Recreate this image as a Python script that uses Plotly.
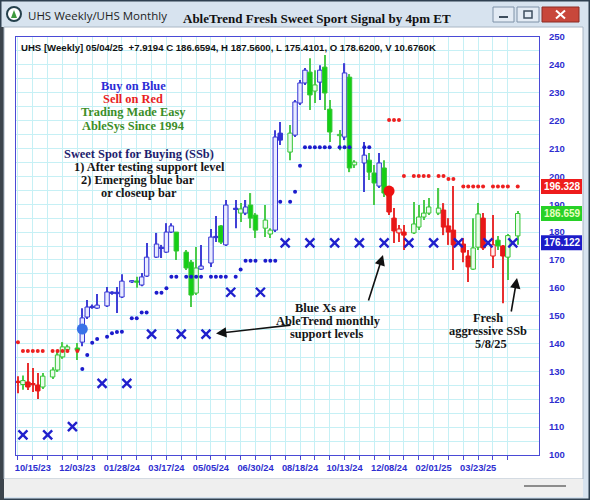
import pandas as pd
import plotly.graph_objects as go

# ---------------- data ----------------
# Combined time axis: weekly bars (Sunday dates) interleaved with monthly bars (1st of month)
week_start, week_end = "2023-09-24", "2025-05-04"
month_start, month_end = "2023-10-01", "2025-05-01"

tick_labels = ["10/15/23", "12/03/23", "01/28/24", "03/17/24", "05/05/24", "06/30/24",
               "08/18/24", "10/13/24", "12/08/24", "02/01/25", "03/23/25"]

# Weekly OHLC
opens = [126.2, 125.3, 126.2, 125.6, 125.1, 124.4, 128.0, 130.5, 135.2, 137.9, 138.4,
         140.5, 149.5, 153.3, 152.7, 153.5, 158.3, 158.4, 156.7, 162.1, 162.2, 161.0,
         164.2, 171.0, 174.5, 172.8, 180.0, 180.0, 172.8, 169.2, 158.1, 166.7, 168.9,
         178.4, 182.2, 175.4, 188.5, 186.8, 186.8, 189.7, 186.1, 181.4, 179.3, 180.7,
         215.5, 208.7, 214.8, 226.3, 233.5, 237.4, 230.6, 233.8, 239.2, 224.1, 214.6,
         214.1, 235.6, 204.1, 204.8, 205.8, 201.2, 196.5, 203.0, 194.0, 185.0, 179.7,
         180.0, 179.7, 181.8, 185.4, 186.8, 186.8, 187.9, 182.2, 180.7, 175.7, 171.4,
         166.7, 174.6, 185.0, 171.4, 177.1, 175.0, 171.0, 178.62]
highs = [128.3, 128.5, 133.0, 131.2, 129.4, 129.4, 131.5, 137.0, 140.5, 139.6, 140.2,
         152.7, 155.6, 154.0, 157.8, 160.3, 158.8, 160.3, 164.9, 162.8, 164.0, 165.3,
         176.1, 179.7, 175.4, 183.2, 183.2, 180.0, 173.6, 170.0, 174.6, 175.4, 181.1,
         185.8, 182.5, 191.5, 191.5, 190.4, 191.5, 194.0, 186.8, 189.7, 181.4, 216.5,
         219.5, 218.4, 227.4, 234.6, 238.9, 242.4, 238.1, 239.9, 243.5, 227.4, 216.6,
         240.6, 236.7, 205.8, 212.3, 208.4, 204.1, 208.4, 205.8, 195.1, 188.6, 182.5,
         182.5, 190.8, 189.7, 191.5, 192.2, 195.8, 190.4, 185.0, 196.5, 177.9, 173.6,
         185.0, 190.4, 186.8, 186.1, 178.6, 175.4, 179.3, 187.56]
lows = [122.2, 123.4, 123.3, 122.6, 120.1, 123.7, 127.3, 129.8, 134.5, 137.3, 134.1,
        139.0, 148.8, 152.5, 152.4, 153.1, 157.5, 151.0, 156.3, 161.7, 160.0, 160.6,
        163.9, 170.7, 170.7, 172.5, 179.7, 170.0, 166.4, 153.1, 157.4, 166.4, 167.5,
        176.4, 175.7, 175.0, 181.4, 183.6, 186.1, 181.4, 177.9, 178.2, 177.9, 180.0,
        211.2, 205.8, 214.1, 225.6, 232.8, 223.8, 226.3, 227.4, 223.8, 212.3, 209.4,
        213.0, 201.5, 203.0, 194.4, 198.7, 189.7, 195.8, 192.6, 186.1, 176.1, 176.4,
        173.6, 179.3, 180.7, 184.3, 186.1, 186.1, 178.9, 175.4, 166.4, 169.2, 162.1,
        166.4, 173.6, 173.6, 167.1, 173.6, 154.5, 162.8, 175.4101]
closes = [126.0, 126.7, 124.4, 125.2, 123.0, 128.3, 130.5, 135.9, 138.8, 138.8, 137.6,
          149.2, 153.1, 152.9, 153.8, 158.5, 158.0, 157.9, 162.4, 162.3, 162.0, 163.9,
          171.0, 175.7, 174.1, 180.0, 182.2, 173.2, 167.1, 157.4, 167.1, 167.8, 178.2,
          178.0, 176.4, 189.7, 188.1, 188.3, 189.0, 185.0, 180.7, 184.3, 180.7, 214.1,
          213.0, 215.5, 226.7, 233.5, 238.1, 229.2, 232.8, 238.1, 229.9, 215.9, 214.9,
          237.1, 203.0, 205.1, 207.6, 201.5, 197.6, 204.8, 194.0, 187.2, 180.4, 181.1,
          178.9, 182.9, 185.4, 186.8, 189.0, 188.6, 181.8, 180.0, 175.4, 172.8, 167.5,
          174.3, 186.5, 174.3, 175.4, 175.0, 171.4, 178.74, 186.6594]
volume_label = "10.6760K"

# AbleTrend bar colour per week: B = blue (up trend), G = green (neutral), R = red (down trend)
trend = list("RGRRRGGGGGG" "BBBBBBBBB" "G" "BBBBBB" "GGGG" "BBB" "G" "BB" "G" "B"
             "GGGG" "BB" "G" "BBB" "GG" "B" "GGG" "B" "GG" "B" "GG" "B" "G"
             "RRRR" "GGGGG" "RRRRR" "GG" "RR" "G" "R" "GG")

# Weekly support stops (blue dots) and resistance stops (red dots)
support_stop = ([None] * 11 +
                [130.9, 135.9, 140.3, 141.6, 142.4, 143.7, 144.1, 144.2, 149.1, 149.1,
                 151.1, 151.1, 158.2, 158.2, 159.8,
                 164.0, 164.0, 164.0, 164.0, 164.0, 164.0, 164.0, 164.0, 164.0, 164.0, 164.0,
                 166.6, 169.7, 169.7, 169.7, 169.7, 169.7, 169.7,
                 190.9, 190.9, 194.5, 203.8,
                 210.4, 210.4, 210.4, 210.4, 210.4, 210.4, 210.4, 210.4, 210.4,
                 None, 210.4, 210.4] +
                [None] * 25)
resistance_stop = ([140.5] +
                   [137.3, 137.3, 137.3, 137.3, 137.3, 137.3, 137.3, 137.3, 137.3, 137.3] +
                   [None] * 52 +
                   [220.2, 220.2, 220.2,
                    200.1, 200.1, 200.1, 200.1, 200.1, 200.1, 200.1,
                    199.0, 199.0,
                    196.328, 196.328, 196.328, 196.328, 196.328, 196.328, 196.328,
                    196.328, 196.328, 196.328])

# Monthly AbleTrend support levels (blue X)
monthly_support = [107.2, 107.2, 110.2, 125.7, 125.7, 143.4, 143.4, 143.4, 158.4, 158.4,
                   176.122, 176.122, 176.122, 176.122, 176.122, 176.122, 176.122, 176.122,
                   176.122, 176.122]

# Signal dots
buy_signal_dates, buy_signal_values = ["2023-12-10"], [145.2]
sell_signal_dates, sell_signal_values = ["2024-12-08"], [194.7]

Y_MIN, Y_MAX = 100, 250

# ---------------- build axis categories ----------------
weeks = pd.date_range(week_start, week_end, freq="W-SUN")
months = pd.date_range(month_start, month_end, freq="MS")
slots = weeks.union(months)
categories = [d.strftime("%Y-%m-%d") for d in slots]
week_keys = [d.strftime("%Y-%m-%d") for d in weeks]
month_keys = [d.strftime("%Y-%m-%d") for d in months]

label_keys = {pd.to_datetime(t, format="%m/%d/%y").strftime("%Y-%m-%d"): t for t in tick_labels}
tick_vals = categories[::3]
tick_text = [label_keys.get(c, "") for c in tick_vals]

# ---------------- styling ----------------
COL = {"B": "#3030d4", "G": "#14d014", "R": "#e81818"}
HOLLOW = {"B": "#e9ebff", "G": "#ecfcec", "R": "#ffefef"}
EDGE = {"B": "#3434d4", "G": "#36c436", "R": "#e81818"}
WICK = {"B": "#4040d6", "G": "#4ccc4c", "R": "#e83030"}
GRID = "#c6f0f5"
AXIS = "#4a4ad6"
DOT_BLUE = "#1c1ccc"
DOT_RED = "#ee2020"

body_base = [min(o, c) for o, c in zip(opens, closes)]
body_len = [max(abs(c - o), 0.45) for o, c in zip(opens, closes)]
body_fill = [COL[t] if c < o else HOLLOW[t] for t, o, c in zip(trend, opens, closes)]
body_edge = [EDGE[t] for t in trend]
wick_len = [h - l for h, l in zip(highs, lows)]
wick_col = [WICK[t] for t in trend]

fig = go.Figure()

# wicks
fig.add_trace(go.Bar(x=week_keys, base=lows, y=wick_len, width=0.24,
                     marker=dict(color=wick_col, line=dict(width=0)),
                     hoverinfo="skip", showlegend=False))
# bodies
fig.add_trace(go.Bar(x=week_keys, base=body_base, y=body_len, width=0.9,
                     marker=dict(color=body_fill, line=dict(color=body_edge, width=1)),
                     hoverinfo="skip", showlegend=False))
# stops
fig.add_trace(go.Scatter(x=week_keys, y=support_stop, mode="markers",
                         marker=dict(size=4, color=DOT_BLUE), showlegend=False, hoverinfo="skip"))
fig.add_trace(go.Scatter(x=week_keys, y=resistance_stop, mode="markers",
                         marker=dict(size=4, color=DOT_RED), showlegend=False, hoverinfo="skip"))
# monthly support X
fig.add_trace(go.Scatter(x=month_keys, y=monthly_support, mode="markers",
                         marker=dict(symbol="x-thin", size=9, line=dict(width=2.4, color="#2020cc")),
                         showlegend=False, hoverinfo="skip"))
# signal dots
fig.add_trace(go.Scatter(x=buy_signal_dates, y=buy_signal_values, mode="markers",
                         marker=dict(size=11, color="#3a72e8"), showlegend=False, hoverinfo="skip"))
fig.add_trace(go.Scatter(x=sell_signal_dates, y=sell_signal_values, mode="markers",
                         marker=dict(size=11, color="#ee1111"), showlegend=False, hoverinfo="skip"))

# ---------------- page layout helpers (pixel -> paper) ----------------
W, H = 590, 500
PL, PR, PT, PB = 16, 539, 37, 455


def fx(p):
    return (p - PL) / (PR - PL)


def fy(p):
    return (PB - p) / (PB - PT)


def vy(v):
    return (v - Y_MIN) / (Y_MAX - Y_MIN)


def rect(x0, y0, x1, y1, fill=None, line=None, lw=1, layer="below"):
    return dict(type="rect", xref="paper", yref="paper",
                x0=fx(x0), x1=fx(x1), y0=fy(y1), y1=fy(y0),
                fillcolor=fill or "rgba(0,0,0,0)",
                line=dict(color=line or "rgba(0,0,0,0)", width=lw if line else 0),
                layer=layer)


def seg(x0, y0, x1, y1, color, lw, layer="above"):
    return dict(type="line", xref="paper", yref="paper",
                x0=fx(x0), x1=fx(x1), y0=fy(y0), y1=fy(y1),
                line=dict(color=color, width=lw), layer=layer)


shapes = [
    rect(0, 0, 590, 500, fill="#d7e3ef", line="#2f4050", lw=3),
    rect(0, 27, 4, 500, fill="#3c444c"),
    rect(4, 27, 583, 479, fill="#ffffff", line="#a9b6c4"),
    rect(4, 479, 583, 497, fill="#efefef"),
    seg(524, 486, 566, 486, "#8c8c8c", 2, layer="below"),
    # window buttons
    rect(493, 7, 514, 22, fill="#e3ebf4", line="#7e92a8", layer="above"),
    seg(499, 17, 508, 17, "#3e4e5e", 2),
    rect(517, 7, 539, 22, fill="#e3ebf4", line="#7e92a8", layer="above"),
    rect(524, 11, 532, 18, line="#3e4e5e", lw=1.5, layer="above"),
    rect(542, 7, 579, 22, fill="#c8473b", line="#8c2c24", layer="above"),
    seg(556, 10.5, 565, 18.5, "#ffffff", 2),
    seg(556, 18.5, 565, 10.5, "#ffffff", 2),
    # title icon
    dict(type="circle", xref="paper", yref="paper", x0=fx(7), x1=fx(21), y0=fy(21), y1=fy(7),
         fillcolor="#ffffff", line=dict(color="#24404c", width=2), layer="above"),
    dict(type="path", xref="paper", yref="paper",
         path=f"M {fx(11)} {fy(18)} L {fx(14)} {fy(10)} L {fx(17)} {fy(18)} Z",
         fillcolor="#3e9a3e", line=dict(width=0), layer="above"),
]

# last-value boxes on the price scale
last_boxes = [
    (resistance_stop[-1], "#ee1c1c", "#ffffff"),
    (closes[-1], "#27d127", "#e9ffc0"),
    (monthly_support[-1], "#1c1cc8", "#ffffff"),
]
half = 7.5 / (PB - PT)
annotations = []
for v, bg, fg in last_boxes:
    shapes.append(dict(type="rect", xref="paper", yref="paper", x0=fx(541), x1=fx(582),
                       y0=vy(v) - half, y1=vy(v) + half, fillcolor=bg,
                       line=dict(width=0), layer="above"))
    annotations.append(dict(xref="paper", yref="paper", x=fx(542), y=vy(v), xanchor="left",
                            yanchor="middle", text=f"{v:.3f}", showarrow=False,
                            font=dict(family="Liberation Sans", size=10, color=fg, weight="bold")))


def label(text, x, y, color, size=12.4, family="Liberation Serif", anchor="center"):
    annotations.append(dict(xref="paper", yref="paper", x=fx(x), y=fy(y), text=text,
                            showarrow=False, xanchor=anchor, yanchor="middle",
                            font=dict(family=family, size=size, color=color, weight="bold")))


# window title bar
annotations.append(dict(xref="paper", yref="paper", x=fx(26), y=fy(16), text="UHS Weekly/UHS Monthly",
                        showarrow=False, xanchor="left", yanchor="middle",
                        font=dict(family="Open Sans", size=11.5, color="#1e1e1e")))
label("AbleTrend Fresh Sweet Sport Signal by 4pm ET", 317, 18, "#111111", size=13)

# data header
change = closes[-1] - closes[-2]
header = (f"UHS [Weekly] 05/04/25  +{change:.4f} C {closes[-1]:.4f}, H {highs[-1]:.4f}, "
          f"L {lows[-1]:.4f}, O {opens[-1]:.4f}, V {volume_label}")
label(header, 19, 47, "#111111", size=9.6, family="Liberation Sans", anchor="left")

# commentary
label("Buy on Blue", 133, 86, "#2c2cd6")
label("Sell on Red", 133, 99.2, "#e81e1e")
label("Trading Made Easy", 133, 112.4, "#3b8e28")
label("AbleSys Since 1994", 133, 125.6, "#3b8e28")
label("Sweet Spot for Buying (SSb)", 139, 153.6, "#1e1e6e")
label("1) After testing support level", 149, 166.8, "#151515")
label("2) Emerging blue bar", 138, 180, "#151515")
label("or closeup bar", 139, 193.2, "#151515")
label("Blue Xs are", 326, 307.5, "#151515")
label("AbleTrend monthly", 328, 320.7, "#151515")
label("support levels", 326, 333.9, "#151515")
label("Fresh", 488, 317.5, "#151515")
label("aggressive SSb", 488, 330.9, "#151515")
label("5/8/25", 491, 344.3, "#151515")


def arrow(head_x, head_y, tail_x, tail_y):
    annotations.append(dict(xref="paper", yref="paper", x=fx(head_x), y=fy(head_y), text="",
                            showarrow=True, ax=tail_x - head_x, ay=tail_y - head_y,
                            arrowhead=2, arrowsize=1.3, arrowwidth=1.6, arrowcolor="#111111",
                            standoff=0))


arrow(216, 333.5, 292, 325)
arrow(383, 255, 368, 302)
arrow(517, 278, 511, 313)

fig.update_layout(
    width=W, height=H,
    margin=dict(l=PL, r=W - PR, t=PT, b=H - PB, pad=0),
    paper_bgcolor="#d7e3ef", plot_bgcolor="#ffffff",
    barmode="overlay", hovermode=False, showlegend=False,
    font=dict(family="Liberation Sans"),
    shapes=shapes, annotations=annotations,
    xaxis=dict(type="category", categoryorder="array", categoryarray=categories,
               range=[-0.4, len(categories) + 3.3],
               tickmode="array", tickvals=tick_vals, ticktext=tick_text,
               ticks="outside", ticklen=4, tickcolor=AXIS, tickwidth=1,
               tickfont=dict(family="Liberation Sans", size=9.3, color="#2e2ed0", weight="bold"),
               showgrid=True, gridcolor=GRID, gridwidth=1,
               showline=True, linecolor=AXIS, linewidth=1, mirror=True, zeroline=False),
    yaxis=dict(range=[Y_MIN, Y_MAX], side="right", tick0=100, dtick=10,
               tickfont=dict(family="Liberation Sans", size=9.5, color="#2e2ed0", weight="bold"),
               ticklabelstandoff=7,
               showgrid=True, gridcolor=GRID, gridwidth=1,
               minor=dict(dtick=5, showgrid=True, gridcolor=GRID, gridwidth=1),
               showline=True, linecolor=AXIS, linewidth=1, mirror=True, zeroline=False),
)

fig.write_html("out.html", config={"displayModeBar": False})
